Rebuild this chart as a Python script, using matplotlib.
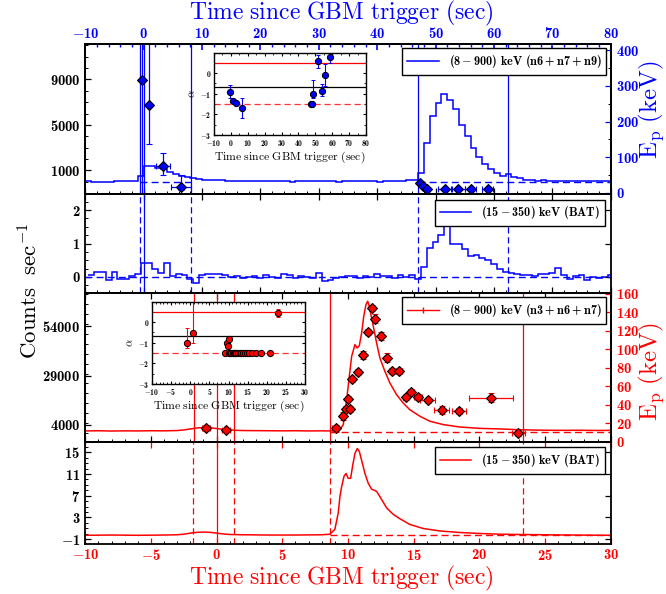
import numpy as np
import matplotlib
matplotlib.use("Agg")
import matplotlib.pyplot as plt
from matplotlib.ticker import MultipleLocator, FixedLocator, FuncFormatter
from matplotlib.lines import Line2D

# Computer Modern text through mathtext, bold digits from cmb10
plt.rcParams['mathtext.fontset'] = 'custom'
plt.rcParams['mathtext.rm'] = 'cmr10'
plt.rcParams['mathtext.bf'] = 'cmb10'
plt.rcParams['mathtext.it'] = 'cmmi10'
plt.rcParams['mathtext.fallback'] = 'cm'
plt.rcParams['font.family'] = 'serif'

BLUE = '#0000ff'
RED = '#ff0000'

# ---- burst 1 (blue): GBM + BAT light curves, 1 s bins ----
blue_edges = np.arange(-10, 81, 1.0)
blue_bat_edges = np.arange(-9.5, 81.0, 1.0)
gbm_blue_counts = [30, 0, 20, -20, 10, 60, 40, 80, 110, 520,
                   1380, 1400, 1180, 1120, 880, 680, 520, 430, 320, 260,
                   200, 170, 120, 150, 90,
                   110, 70, 90, 40, 60, 80, 50, 30, 70, 60, 20, 50, 90, 40, 30, 60,
                   80, 50, 20, 40, 60, 30, 50, 70, 40, 20, 50, 80, 60, 110, 150, 120,
                   740, 3390, 5790, 6960, 7720, 7240, 6380, 4990, 4020, 2940,
                   2200, 1560, 1090, 740, 500, 680, 440, 300, 200, 130, 100, 120, 80,
                   60, 90, 50, 40, 70, 60, 30, 50, 40, 60]
bat_blue_rate = [0.05, 0.15, 0.15, -0.1, 0.15, -0.05, -0.05, 0.02, 0.08, 0.42,
                 0.42, 0.25, 0.13, 0.42, 0.03, 0.08, 0.05, -0.05, -0.17, 0.06,
                 0.08, 0.1, 0.08, 0.05, 0.0, 0.02, -0.02, 0.0, 0.03, -0.02,
                 0.05, 0.0, -0.03, 0.08, 0.05, -0.03, 0.03, 0.0, -0.02, 0.12,
                 -0.12, -0.1, -0.02, 0.0, 0.02, 0.03, -0.02, 0.02, 0.0, 0.1,
                 0.03, 0.02, -0.02, 0.05, 0.0, 0.05, -0.05,
                 0.3, 0.87, 1.05, 1.25, 1.55, 1.0, 0.98, 0.85, 0.62, 0.65,
                 0.58, 0.5, 0.38, 0.25, 0.15, 0.12, 0.1, 0.05, 0.05, 0.02,
                 0.08, 0.1, 0.12, 0.28, 0.05, -0.05, 0.03, 0.05, -0.08, 0.0,
                 -0.02, 0.0, 0.05]

# spectral fits, burst 1
blue_t = [-0.25, 1.0, 3.3, 6.4, 47.3, 47.9, 48.5, 51.6, 53.9, 56.0, 58.9]
blue_t_err = [0.3, 0.3, 1.2, 1.65, 0.3, 0.3, 0.3, 1.1, 1.1, 1.0, 1.0]
blue_ep = [316, 245, 75.5, 17.6, 28.8, 19.6, 12, 10.3, 10.3, 10.3, 10.3]
blue_ep_lo = [316, 109, 25, 10, 4, 4, 3, 3, 3, 3, 3]
blue_ep_hi = [300, 300, 36, 33, 4, 4, 3, 3, 3, 3, 3]
blue_alpha = [-0.89, -1.33, -1.43, -1.68, -1.5, -1.5, -1.02, 0.57, -0.86, -0.1, 0.8]
blue_alpha_lo = [0.3, 0.1, 0.1, 0.5, 0.05, 0.05, 0.2, 0.3, 0.25, 0.5, 0.3]
blue_alpha_hi = [0.3, 0.1, 0.1, 0.5, 0.05, 0.05, 0.7, 0.3, 0.35, 0.55, 0.3]
blue_lines = [-0.6, 0.0, 8.1, 47.0, 62.4]

# ---- burst 2 (red): GBM + BAT light curves ----
gbm_red_t = [-10, -9, -8, -7, -6, -5, -4, -3, -2.5, -2, -1.5, -1, -0.5, 0, 0.5,
             1, 1.5, 2, 3, 4, 5, 6, 7, 8, 8.6, 9.2, 9.4, 9.64, 9.9, 10.1,
             10.28, 10.53, 10.7, 10.86, 11.04, 11.2, 11.37, 11.5, 11.62, 11.72,
             11.93, 12.18, 12.43, 12.81, 13.19, 13.7, 14.2, 14.71, 15.48, 16.24,
             17.25, 18.5, 20.0, 21.6, 23.1, 24.5, 26, 27.5, 29, 30]
gbm_red_counts = [1000, 1100, 950, 1050, 1000, 1100, 1050, 1200, 1500, 2000,
                  2500, 2700, 2600, 2200, 1800, 1500, 1300, 1200, 1150, 1100,
                  1050, 1100, 1000, 1050, 1000, 1200, 1800, 4150, 16800, 28600,
                  38700, 44600, 42900, 44000, 50500, 58900, 64800, 66500, 64000, 60600,
                  53800, 45400, 37800, 31100, 25200, 19300, 15100, 11700, 8400, 5900,
                  4200, 3000, 2300, 2000, 1600, 1400, 1300, 1350, 1250, 1300]
bat_red_t = [-10, -8, -6, -4, -3, -2.5, -2, -1.5, -1, -0.5, 0, 0.5, 1, 2, 4, 6, 8,
             8.63, 9.0, 9.26, 9.39, 9.52, 9.7, 9.85, 10.02, 10.2, 10.36, 10.53,
             10.71, 10.86, 11.04, 11.29, 11.54, 11.8, 12.18, 12.56, 12.94, 13.45,
             13.95, 14.71, 15.73, 17.0, 18.5, 20.0, 21.6, 23.1, 25, 27, 30]
bat_red_rate = [-0.3, -0.25, -0.3, -0.25, -0.2, -0.1, 0.1, 0.25, 0.3, 0.25, 0.1,
                -0.05, -0.15, -0.2, -0.25, -0.25, -0.2, -0.1, 0.8, 3.85, 6.9, 8.7,
                10.6, 11.1, 10.2, 10.2, 12.6, 14.8, 15.7, 15.2, 13.5, 11.1, 9.3,
                8.2, 7.8, 6.3, 4.75, 3.55, 2.75, 1.7, 0.95, 0.5, 0.22, 0.04, -0.1,
                -0.15, -0.2, -0.25, -0.3]

# spectral fits, burst 2
red_t = [-0.8, 0.7, 9.05, 9.65, 9.82, 10.02, 10.15, 10.28, 10.73, 11.12, 11.55,
         11.8, 12.05, 12.5, 13.0, 13.35, 13.88, 14.38, 14.76, 15.35, 16.06,
         17.12, 18.46, 20.87, 22.95]
red_t_err = [0.3, 0.3, 0.25, 0.1, 0.08, 0.08, 0.08, 0.1, 0.12, 0.12, 0.1, 0.1,
             0.1, 0.12, 0.15, 0.15, 0.2, 0.2, 0.2, 0.3, 0.55, 0.6, 0.55, 1.66, 0.5]
red_ep = [15, 13, 14.7, 28, 35.6, 47, 35.6, 67.6, 75.9, 93.9, 119, 145, 133.4,
          114.7, 91.3, 77, 77, 48.1, 54.3, 48.9, 44.9, 34.5, 33.4, 47.8, 10]
red_ep_err = [3, 2, 4, 4, 3, 3, 3, 3, 3, 4, 3, 3, 5, 4, 5, 3, 3, 3, 3, 3, 3, 4,
              3, 5, 3]
red_alpha = [-1.0, -0.52, -1.5, -1.03, -1.17, -0.8] + [-1.5] * 18 + [0.45]
red_alpha_lo = [0.25, 0.48, 0.05, 0.08, 0.08, 0.08] + [0.03] * 18 + [0.2]
red_alpha_hi = [0.72, 1.8, 0.05, 0.08, 0.08, 0.08] + [0.03] * 18 + [0.2]
red_lines = [-1.7, 0.0, 1.3, 8.6, 23.3]
bat_red_dashed = [-1.8, 1.3, 8.6, 23.3]

# theoretical alpha limits
alpha_hi, alpha_sync, alpha_fast = 0.5, -2.0 / 3.0, -1.5

blue_xticks = np.arange(-10, 81, 10)
red_xticks = np.arange(-10, 31, 5)
gbm_blue_yticks = [1000, 5000, 9000]
ep_blue_yticks = [0, 100, 200, 300, 400]
bat_blue_yticks = [0, 1, 2]
gbm_red_yticks = [4000, 29000, 54000]
ep_red_yticks = np.arange(0, 161, 20)
bat_red_yticks = [-1, 3, 7, 11, 15]
alpha_yticks = [-3, -2, -1, 0]


def bold_num(v, pos=None):
    return r'$\mathbf{%g}$' % v


fmt = FuncFormatter(bold_num)


def style(ax, size=10.5):
    ax.tick_params(which='both', direction='in', labelsize=size)
    ax.tick_params(which='major', length=4, width=0.9)
    ax.tick_params(which='minor', length=2, width=0.7)
    for s in ax.spines.values():
        s.set_linewidth(1.3)


fig = plt.figure(figsize=(6.66, 5.94), dpi=100)
L, W = 0.128, 0.789
ax1 = fig.add_axes([L, 0.6734, W, 0.2525])
ax2 = fig.add_axes([L, 0.5067, W, 0.1667])
ax3 = fig.add_axes([L, 0.2559, W, 0.2508])
ax4 = fig.add_axes([L, 0.0842, W, 0.1717])

# ---------- panel 1: GBM burst 1 + Ep ----------
ax1.stairs(gbm_blue_counts, blue_edges, color=BLUE, lw=1.1, baseline=None)
for t in blue_lines:
    ax1.axvline(t, color=BLUE, lw=0.9)
ax1.hlines(0, -0.6, 8.1, colors=BLUE, linestyles=(0, (5, 3)), lw=1)
ax1.hlines(0, 47.0, 80, colors=BLUE, linestyles=(0, (5, 3)), lw=1)
ax1.set_xlim(-10, 80)
ax1.set_ylim(-1070, 12120)
ax1.yaxis.set_major_locator(FixedLocator(gbm_blue_yticks))
ax1.yaxis.set_minor_locator(MultipleLocator(1000))
ax1.yaxis.set_major_formatter(fmt)
ax1.xaxis.set_major_locator(FixedLocator(blue_xticks))
ax1.xaxis.set_minor_locator(MultipleLocator(2))
style(ax1)
ax1.tick_params(axis='x', labelbottom=False, top=False, bottom=True)
ax1.tick_params(axis='y', right=False)

top = ax1.secondary_xaxis('top')
top.xaxis.set_major_locator(FixedLocator(blue_xticks))
top.xaxis.set_minor_locator(MultipleLocator(2))
top.xaxis.set_major_formatter(fmt)
top.tick_params(which='both', direction='in', colors=BLUE, labelsize=10.5, pad=2)
top.tick_params(which='major', length=4, width=1.2)
top.tick_params(which='minor', length=2.5, width=1.0)
top.spines['top'].set_linewidth(1.3)

ax1r = ax1.twinx()
ax1r.errorbar(blue_t, blue_ep, xerr=blue_t_err, yerr=[blue_ep_lo, blue_ep_hi],
              fmt='D', ms=5.5, mfc=BLUE, mec='k', mew=0.8, ecolor=BLUE,
              elinewidth=0.9, capsize=2)
ax1r.set_ylim(-3, 417)
ax1r.yaxis.set_major_locator(FixedLocator(ep_blue_yticks))
ax1r.yaxis.set_minor_locator(MultipleLocator(50))
ax1r.yaxis.set_major_formatter(fmt)
style(ax1r)
ax1r.tick_params(axis='y', colors=BLUE)
ax1r.legend(handles=[Line2D([], [], color=BLUE, lw=1.1)],
            labels=[r'$\mathbf{(8-900)\ keV\ (n6+n7+n9)}$'],
            loc='upper right', fontsize=8.8, fancybox=False, edgecolor='k',
            framealpha=1, borderaxespad=0.35, handlelength=2.6)

# ---------- panel 2: BAT burst 1 ----------
ax2.stairs(bat_blue_rate, blue_bat_edges, color=BLUE, lw=1.1, baseline=None)
for t in blue_lines:
    ls = '-' if t == 0.0 else (0, (5, 3))
    ax2.axvline(t, color=BLUE, lw=0.9, ls=ls)
ax2.axhline(0, color=BLUE, lw=1, ls=(0, (5, 3)))
ax2.set_xlim(-10, 80)
ax2.set_ylim(-0.48, 2.48)
ax2.yaxis.set_major_locator(FixedLocator(bat_blue_yticks))
ax2.yaxis.set_minor_locator(MultipleLocator(0.25))
ax2.yaxis.set_major_formatter(fmt)
ax2.xaxis.set_major_locator(FixedLocator(blue_xticks))
ax2.xaxis.set_minor_locator(MultipleLocator(2))
style(ax2)
ax2.tick_params(axis='x', labelbottom=False, top=True)
ax2.tick_params(axis='y', right=True)
ax2.legend(handles=[Line2D([], [], color=BLUE, lw=1.1)],
           labels=[r'$\mathbf{(15-350)\ keV\ (BAT)}$'],
           loc='upper right', fontsize=8.8, fancybox=False, edgecolor='k',
           framealpha=1, borderaxespad=0.45, handlelength=2.6)

# ---------- panel 3: GBM burst 2 + Ep ----------
ax3.plot(gbm_red_t, gbm_red_counts, color=RED, lw=1.1)
for t in red_lines:
    ax3.axvline(t, color=RED, lw=0.9)
ax3.hlines(500, 8.6, 30, colors=RED, linestyles=(0, (5, 3)), lw=1)
ax3.set_xlim(-10, 30)
ax3.set_ylim(-4585, 70660)
ax3.yaxis.set_major_locator(FixedLocator(gbm_red_yticks))
ax3.yaxis.set_minor_locator(MultipleLocator(5000))
ax3.yaxis.set_major_formatter(fmt)
ax3.xaxis.set_major_locator(FixedLocator(red_xticks))
ax3.xaxis.set_minor_locator(MultipleLocator(1))
style(ax3)
ax3.tick_params(axis='x', labelbottom=False, top=True)
ax3.tick_params(axis='y', right=False)

ax3r = ax3.twinx()
ax3r.errorbar(red_t, red_ep, xerr=red_t_err, yerr=red_ep_err,
              fmt='D', ms=5.5, mfc=RED, mec='k', mew=0.8, ecolor=RED,
              elinewidth=0.9, capsize=2)
ax3r.set_ylim(0, 161)
ax3r.yaxis.set_major_locator(FixedLocator(ep_red_yticks))
ax3r.yaxis.set_major_formatter(fmt)
style(ax3r)
ax3r.tick_params(axis='y', colors=RED)
ax3r.legend(handles=[Line2D([], [], color=RED, lw=1.0, marker='|', ms=4)],
            labels=[r'$\mathbf{(8-900)\ keV\ (n3+n6+n7)}$'],
            loc='upper right', fontsize=8.8, fancybox=False, edgecolor='k',
            framealpha=1, borderaxespad=0.35, handlelength=2.6)

# ---------- panel 4: BAT burst 2 ----------
ax4.plot(bat_red_t, bat_red_rate, color=RED, lw=1.1)
for t in bat_red_dashed:
    ax4.axvline(t, color=RED, lw=0.9, ls=(0, (5, 3)))
ax4.axvline(0.0, color=RED, lw=0.9)
ax4.hlines(-0.3, 8.6, 30, colors=RED, linestyles=(0, (5, 3)), lw=1)
ax4.set_xlim(-10, 30)
ax4.set_ylim(-1.9, 16.9)
ax4.yaxis.set_major_locator(FixedLocator(bat_red_yticks))
ax4.yaxis.set_minor_locator(MultipleLocator(1))
ax4.yaxis.set_major_formatter(fmt)
ax4.xaxis.set_major_locator(FixedLocator(red_xticks))
ax4.xaxis.set_minor_locator(MultipleLocator(1))
ax4.xaxis.set_major_formatter(fmt)
style(ax4)
ax4.tick_params(axis='x', colors=RED, top=True, labelsize=10.5, pad=3)
ax4.tick_params(axis='y', right=True)
ax4.legend(handles=[Line2D([], [], color=RED, lw=1.1)],
           labels=[r'$\mathbf{(15-350)\ keV\ (BAT)}$'],
           loc='upper right', fontsize=8.8, fancybox=False, edgecolor='k',
           framealpha=1, borderaxespad=0.45, handlelength=2.6)


# ---------- alpha insets ----------
def alpha_inset(rect, t, a, lo, hi, color, xlim, xticks, xminor):
    ins = fig.add_axes(rect)
    ins.set_facecolor('white')
    ins.axhline(alpha_hi, color=RED, lw=0.9)
    ins.axhline(alpha_sync, color='k', lw=0.9)
    ins.axhline(alpha_fast, color=RED, lw=0.9, ls=(0, (5, 3)), alpha=0.8)
    ins.errorbar(t, a, yerr=[lo, hi], fmt='o', ms=4.5, mfc=color, mec='k',
                 mew=0.7, ecolor=color, elinewidth=0.8, capsize=1.5)
    ins.set_xlim(*xlim)
    ins.set_ylim(-3, 0.98)
    ins.xaxis.set_major_locator(FixedLocator(xticks))
    ins.xaxis.set_minor_locator(MultipleLocator(xminor))
    ins.yaxis.set_major_locator(FixedLocator(alpha_yticks))
    ins.yaxis.set_minor_locator(MultipleLocator(0.5))
    ins.xaxis.set_major_formatter(fmt)
    ins.yaxis.set_major_formatter(fmt)
    ins.tick_params(which='both', direction='in', labelsize=5.5, top=True,
                    right=True, pad=2)
    ins.tick_params(which='major', length=2.5)
    ins.tick_params(which='minor', length=1.3)
    for s in ins.spines.values():
        s.set_linewidth(1.0)
    ins.set_xlabel(r'$\mathrm{Time\ since\ GBM\ trigger\ (sec)}$',
                   fontsize=8.4, labelpad=1)
    ins.set_ylabel(r'$\alpha$', fontsize=8, labelpad=1.5)
    return ins


alpha_inset([214 / 666, 1 - 135 / 594, 152 / 666, 82 / 594], blue_t,
            blue_alpha, blue_alpha_lo, blue_alpha_hi, BLUE, (-10, 80),
            blue_xticks, 5)
alpha_inset([152 / 666, 1 - 384 / 594, 153 / 666, 82 / 594], red_t,
            red_alpha, red_alpha_lo, red_alpha_hi, RED, (-10, 30),
            red_xticks, 1)

# ---------- axis titles ----------
fig.text(0.513, 0.977, r'$\mathrm{Time\ since\ GBM\ trigger\ (sec)}$',
         color=BLUE, fontsize=17, ha='center', va='center')
fig.text(0.513, 0.027, r'$\mathrm{Time\ since\ GBM\ trigger\ (sec)}$',
         color=RED, fontsize=17, ha='center', va='center')
fig.text(0.045, 0.51, r'$\mathrm{Counts\ \ sec^{-1}}$', fontsize=16.5,
         rotation=90, ha='center', va='center')
fig.text(0.977, 0.815, r'$\mathrm{E_p\ (keV)}$', color=BLUE, fontsize=18,
         rotation=90, ha='center', va='center')
fig.text(0.977, 0.374, r'$\mathrm{E_p\ (keV)}$', color=RED, fontsize=18,
         rotation=90, ha='center', va='center')

fig.savefig('out.png', dpi=100)
